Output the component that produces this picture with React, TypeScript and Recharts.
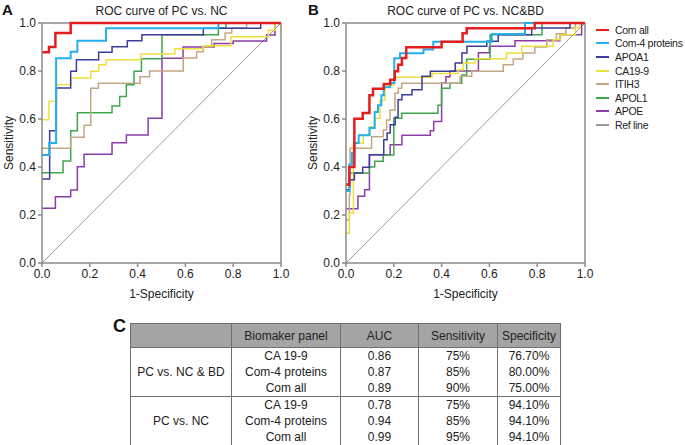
import { LineChart, Line, XAxis, YAxis, ReferenceLine } from "recharts";

// ROC step points: [1-specificity, sensitivity] after each rise
const seriesNames = ["Com all", "Com-4 proteins", "APOA1", "CA19-9", "ITIH3", "APOL1", "APOE", "Ref line"];

const ncComAll = [[0, 0.878], [0.029, 0.9], [0.056, 0.958], [0.12, 1], [1, 1]];
const ncCom4 = [[0, 0.45], [0.03, 0.5], [0.059, 0.853], [0.12, 0.88], [0.148, 0.926], [0.268, 0.978], [0.738, 1], [1, 1]];
const ncApoa1 = [[0, 0.35], [0.032, 0.551], [0.06, 0.729], [0.12, 0.799], [0.144, 0.847], [0.237, 0.878], [0.293, 0.901], [0.357, 0.926], [0.418, 0.951], [0.675, 0.978], [0.915, 1], [1, 1]];
const ncCa199 = [[0, 0.597], [0.029, 0.674], [0.06, 0.743], [0.12, 0.771], [0.204, 0.799], [0.237, 0.826], [0.269, 0.847], [0.413, 0.871], [0.556, 0.893], [0.674, 0.905], [0.79, 0.943], [0.947, 0.97], [0.975, 1], [1, 1]];
const ncItih3 = [[0, 0.478], [0.12, 0.524], [0.176, 0.574], [0.204, 0.728], [0.236, 0.749], [0.41, 0.776], [0.45, 0.8], [0.591, 0.854], [0.647, 0.88], [0.675, 0.9], [0.71, 0.93], [0.766, 0.958], [0.794, 0.979], [0.856, 1], [1, 1]];
const ncApol1 = [[0, 0.376], [0.088, 0.425], [0.12, 0.551], [0.148, 0.626], [0.293, 0.654], [0.325, 0.694], [0.353, 0.743], [0.385, 0.799], [0.416, 0.851], [0.502, 0.951], [0.738, 0.979], [0.77, 1], [1, 1]];
const ncApoe = [[0, 0.228], [0.056, 0.276], [0.12, 0.304], [0.148, 0.401], [0.176, 0.453], [0.293, 0.501], [0.353, 0.533], [0.444, 0.603], [0.502, 0.853], [0.59, 0.9], [0.72, 0.915], [0.8, 0.925], [0.94, 0.95], [0.975, 1], [1, 1]];

const bdComAll = [[0, 0.326], [0.014, 0.4], [0.035, 0.601], [0.07, 0.625], [0.098, 0.699], [0.113, 0.726], [0.158, 0.746], [0.185, 0.764], [0.204, 0.799], [0.218, 0.826], [0.234, 0.854], [0.252, 0.899], [0.4, 0.922], [0.488, 0.957], [0.505, 0.978], [0.79, 1], [1, 1]];
const bdCom4 = [[0, 0.3], [0.014, 0.41], [0.025, 0.458], [0.035, 0.5], [0.053, 0.532], [0.098, 0.5625], [0.12, 0.629], [0.134, 0.657], [0.148, 0.699], [0.158, 0.732], [0.185, 0.75], [0.202, 0.853], [0.226, 0.874], [0.324, 0.89], [0.365, 0.922], [0.61, 0.954], [0.749, 1], [1, 1]];
const bdApoa1 = [[0, 0.305], [0.014, 0.347], [0.035, 0.375], [0.07, 0.399], [0.098, 0.451], [0.158, 0.514], [0.172, 0.542], [0.185, 0.576], [0.206, 0.607], [0.218, 0.68], [0.234, 0.701], [0.276, 0.722], [0.318, 0.778], [0.353, 0.799], [0.457, 0.833], [0.485, 0.875], [0.506, 0.903], [0.589, 0.924], [0.637, 0.951], [0.777, 0.979], [0.937, 1], [1, 1]];
const bdCa199 = [[0, 0.124], [0.014, 0.207], [0.031, 0.499], [0.072, 0.533], [0.1, 0.568], [0.121, 0.603], [0.142, 0.679], [0.163, 0.742], [0.2, 0.774], [0.36, 0.79], [0.47, 0.805], [0.49, 0.833], [0.54, 0.851], [0.672, 0.875], [0.735, 0.903], [0.867, 0.93], [0.895, 0.951], [0.96, 0.98], [0.98, 1], [1, 1]];
const bdItih3 = [[0, 0.18], [0.014, 0.285], [0.017, 0.478], [0.107, 0.526], [0.156, 0.554], [0.17, 0.596], [0.184, 0.6375], [0.205, 0.707], [0.219, 0.728], [0.233, 0.749], [0.477, 0.778], [0.526, 0.799], [0.658, 0.826], [0.7, 0.85], [0.74, 0.875], [0.79, 0.9], [0.84, 0.93], [0.88, 0.955], [0.92, 0.979], [0.96, 1], [1, 1]];
const bdApol1 = [[0, 0.33], [0.014, 0.375], [0.098, 0.4], [0.12, 0.424], [0.156, 0.45], [0.2, 0.603], [0.233, 0.624], [0.385, 0.657], [0.4, 0.728], [0.435, 0.749], [0.484, 0.783], [0.505, 0.849], [0.603, 0.951], [0.82, 1], [1, 1]];
const bdApoe = [[0, 0.226], [0.05, 0.278], [0.078, 0.305], [0.098, 0.451], [0.185, 0.493], [0.234, 0.532], [0.353, 0.551], [0.367, 0.59], [0.4, 0.75], [0.418, 0.776], [0.435, 0.8], [0.554, 0.876], [0.6, 0.903], [0.707, 0.926], [0.895, 0.951], [0.986, 1], [1, 1]];

const refLine = [[0, 0], [1, 1]];
const axisTicks = [0, 0.2, 0.4, 0.6, 0.8, 1];

// table
const tableHeader = ["", "Biomaker panel", "AUC", "Sensitivity", "Specificity"];
const groupNames = ["PC vs. NC & BD", "PC vs. NC"];
const panelNames = ["CA 19-9", "Com-4 proteins", "Com all"];
const aucValues = [["0.86", "0.87", "0.89"], ["0.78", "0.94", "0.99"]];
const sensValues = [["75%", "85%", "90%"], ["75%", "85%", "95%"]];
const specValues = [["76.70%", "80.00%", "75.00%"], ["94.10%", "94.10%", "94.10%"]];

const FONT = "'Liberation Sans', Arial, Helvetica, sans-serif";
const colors = ["#e41e1c", "#22b0ee", "#3c3c9c", "#eedf3c", "#c4a783", "#3ea64b", "#8c3caa", "#9a9a9a"];
const widths = [2.5, 2, 1.5, 1.5, 1.5, 1.5, 1.5, 1];
const AXIS = "#8a8a8a";

const toPts = (arr: number[][]) => arr.map(([x, y]) => ({ x, y }));

function RocPanel({ left, title, letter, curves }: { left: number; title: string; letter: string; curves: number[][][] }) {
  // draw back to front so the red combined curve sits on top
  const order = [7, 6, 5, 4, 3, 2, 1, 0];
  return (
    <div style={{ position: "absolute", left, top: 0, width: 290, height: 312 }}>
      <div style={{ position: "absolute", left: 42, width: 239, top: 4, textAlign: "center", fontSize: 12, color: "#222" }}>
        {title}
      </div>
      <div style={{ position: "absolute", left: letter === "A" ? 2 : 4, top: 1, fontSize: 15, fontWeight: "bold", color: "#111" }}>
        {letter}
      </div>
      <LineChart width={290} height={312} margin={{ top: 23, right: 9, left: 0, bottom: 0 }}>
        <XAxis
          type="number"
          dataKey="x"
          domain={[0, 1]}
          ticks={axisTicks}
          tickFormatter={(v: number) => v.toFixed(1)}
          height={49}
          stroke={AXIS}
          strokeWidth={1.5}
          tickSize={4}
          tick={{ fontSize: 12, fill: "#222", fontFamily: FONT }}
          label={{ value: "1-Specificity", position: "insideBottom", offset: 14, style: { fontSize: 12, fill: "#222", fontFamily: FONT } }}
        />
        <YAxis
          type="number"
          dataKey="y"
          domain={[0, 1]}
          ticks={axisTicks}
          tickFormatter={(v: number) => v.toFixed(1)}
          width={42}
          stroke={AXIS}
          strokeWidth={1.5}
          tickSize={4}
          tick={{ fontSize: 12, fill: "#222", fontFamily: FONT }}
          label={{ value: "Sensitivity", angle: -90, position: "insideLeft", offset: 9, style: { textAnchor: "middle", fontSize: 12, fill: "#222", fontFamily: FONT } }}
        />
        <ReferenceLine y={1} stroke={AXIS} strokeWidth={1.5} />
        <ReferenceLine x={1} stroke={AXIS} strokeWidth={1.5} />
        {order.map((i) => (
          <Line
            key={seriesNames[i]}
            data={toPts(curves[i])}
            dataKey="y"
            name={seriesNames[i]}
            type={i === 7 ? "linear" : "stepAfter"}
            stroke={colors[i]}
            strokeWidth={widths[i]}
            dot={false}
            activeDot={false}
            isAnimationActive={false}
          />
        ))}
      </LineChart>
    </div>
  );
}

function LegendBox() {
  return (
    <div style={{ position: "absolute", left: 596, top: 23 }}>
      {seriesNames.map((n, i) => (
        <div key={n} style={{ display: "flex", alignItems: "center", height: 13.6 }}>
          <div style={{ width: 13, height: i === 0 ? 2.5 : 2, background: colors[i], marginRight: 6 }} />
          <span style={{ fontSize: 10.5, color: "#222", whiteSpace: "nowrap", letterSpacing: -0.3 }}>{n}</span>
        </div>
      ))}
    </div>
  );
}

function StatsTable() {
  const border = "1px solid #6f6f6f";
  const colW = [101, 109, 78, 79, 63];
  const cell = { borderLeft: border, borderRight: border, textAlign: "center" as const, padding: 0, height: 16, lineHeight: "16px" };
  return (
    <div style={{ position: "absolute", left: 113, top: 316, fontSize: 18, fontWeight: "bold", color: "#111" }}>
      C
      <table
        style={{
          position: "absolute",
          left: 17,
          top: 7,
          borderCollapse: "collapse",
          tableLayout: "fixed",
          width: 430,
          fontSize: 12,
          fontWeight: "normal",
          color: "#222",
        }}
      >
        <colgroup>
          {colW.map((w, i) => (
            <col key={i} style={{ width: w }} />
          ))}
        </colgroup>
        <tbody>
          <tr style={{ background: "#a4a4a4" }}>
            {tableHeader.map((h, i) => (
              <td key={i} style={{ border, textAlign: "center", height: 23, padding: 0 }}>
                {h}
              </td>
            ))}
          </tr>
          {groupNames.map((g, gi) =>
            panelNames.map((p, ri) => (
              <tr key={g + p} style={{ borderBottom: ri === 2 ? border : undefined }}>
                {ri === 0 && (
                  <td rowSpan={3} style={{ ...cell, borderTop: border, borderBottom: border }}>
                    {g}
                  </td>
                )}
                <td style={cell}>{p}</td>
                <td style={cell}>{aucValues[gi][ri]}</td>
                <td style={cell}>{sensValues[gi][ri]}</td>
                <td style={cell}>{specValues[gi][ri]}</td>
              </tr>
            ))
          )}
        </tbody>
      </table>
    </div>
  );
}

export default function App() {
  const ncCurves = [ncComAll, ncCom4, ncApoa1, ncCa199, ncItih3, ncApol1, ncApoe, refLine];
  const bdCurves = [bdComAll, bdCom4, bdApoa1, bdCa199, bdItih3, bdApol1, bdApoe, refLine];
  return (
    <div style={{ position: "absolute", left: 0, top: 0, width: 685, height: 445, background: "#fff", fontFamily: FONT, overflow: "hidden" }}>
      <RocPanel left={0} title="ROC curve of PC vs. NC" letter="A" curves={ncCurves} />
      <RocPanel left={304} title="ROC curve of PC vs. NC&BD" letter="B" curves={bdCurves} />
      <LegendBox />
      <StatsTable />
    </div>
  );
}
